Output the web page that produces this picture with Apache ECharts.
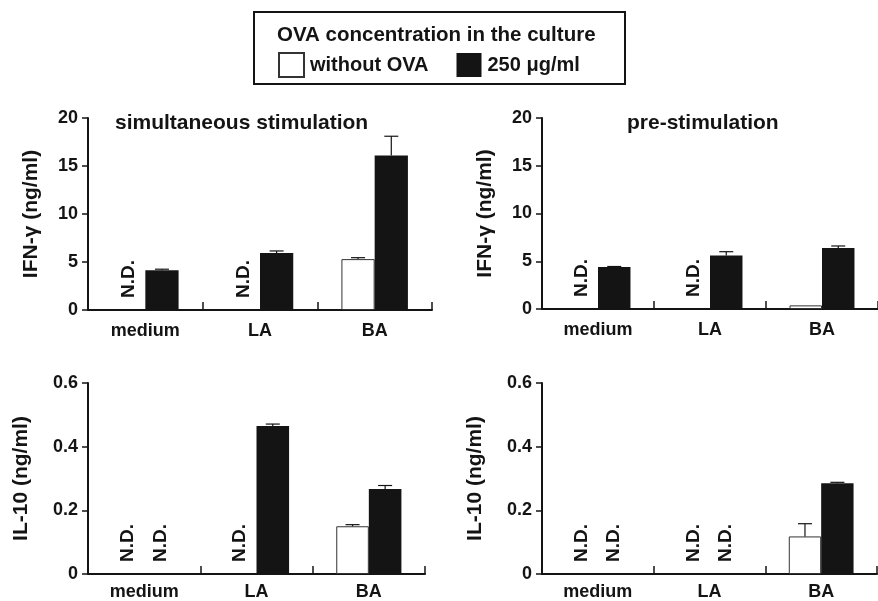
<!DOCTYPE html>
<html>
<head>
<meta charset="utf-8">
<script src="https://cdn.jsdelivr.net/npm/echarts@6/dist/echarts.min.js"></script>
<style>html,body{margin:0;padding:0;background:#fff;}#c{width:878px;height:601px;}</style>
</head>
<body>
<div id="c"></div>
<script>
const categories = ['medium', 'LA', 'BA'];
const seriesNames = ['without OVA', '250 \u03bcg/ml'];
const legendTitle = 'OVA concentration in the culture';
const panelTitles = ['simultaneous stimulation', 'pre-stimulation'];
const yNames = ['IFN-\u03b3 (ng/ml)', 'IL-10 (ng/ml)'];
const ifnTicks = [0, 5, 10, 15, 20];
const il10Ticks = [0, 0.2, 0.4, 0.6];

const ifnSimWithout = ['N.D.', 'N.D.', 5.3];
const ifnSimWithoutErr = [0, 0, 0.15];
const ifnSimWith = [4.15, 5.95, 16.1];
const ifnSimWithErr = [0.1, 0.2, 2.0];

const ifnPreWithout = ['N.D.', 'N.D.', 0.38];
const ifnPreWithoutErr = [0, 0, 0];
const ifnPreWith = [4.4, 5.6, 6.4];
const ifnPreWithErr = [0.05, 0.4, 0.2];

const il10SimWithout = ['N.D.', 'N.D.', 0.15];
const il10SimWithoutErr = [0, 0, 0.005];
const il10SimWith = ['N.D.', 0.465, 0.267];
const il10SimWithErr = [0, 0.006, 0.011];

const il10PreWithout = ['N.D.', 'N.D.', 0.118];
const il10PreWithoutErr = [0, 0, 0.04];
const il10PreWith = ['N.D.', 'N.D.', 0.285];
const il10PreWithErr = [0, 0, 0.003];

const FONT = '"Liberation Sans", Arial, Helvetica, sans-serif';
const INK = '#141414';
const GAP = 0.42;

const panels = [
  {grid: {left: 88, top: 118, width: 344, height: 192}, ticks: ifnTicks, name: yNames[0], nameGap: 46, labelMargin: 12,
   w: ifnSimWithout, we: ifnSimWithoutErr, b: ifnSimWith, be: ifnSimWithErr},
  {grid: {left: 542, top: 118, width: 345, height: 191}, ticks: ifnTicks, name: yNames[0], nameGap: 46, labelMargin: 12,
   w: ifnPreWithout, we: ifnPreWithoutErr, b: ifnPreWith, be: ifnPreWithErr},
  {grid: {left: 88, top: 383, width: 337, height: 192}, ticks: il10Ticks, name: yNames[1], nameGap: 56, labelMargin: 9,
   w: il10SimWithout, we: il10SimWithoutErr, b: il10SimWith, be: il10SimWithErr},
  {grid: {left: 542, top: 383, width: 335, height: 191}, ticks: il10Ticks, name: yNames[1], nameGap: 56, labelMargin: 9,
   w: il10PreWithout, we: il10PreWithoutErr, b: il10PreWith, be: il10PreWithErr}
];

const ndLabel = {
  show: true, formatter: 'N.D.', position: 'top', distance: 12, rotate: 90,
  align: 'left', verticalAlign: 'middle',
  fontFamily: FONT, fontWeight: 'bold', fontSize: 19, color: INK
};

function barData(arr) {
  return arr.map(v => v === 'N.D.'
    ? {value: 0, label: ndLabel, itemStyle: {color: 'rgba(0,0,0,0)', borderWidth: 0}}
    : v);
}
function errData(vals, errs) {
  const out = [];
  vals.forEach((v, i) => { if (v !== 'N.D.' && errs[i] > 0) out.push([i, v, errs[i]]); });
  return out;
}
function errRender(side) {
  return function (params, api) {
    const ci = api.value(0), v = api.value(1), e = api.value(2);
    const base = api.coord([ci, v]);
    const top = api.coord([ci, v + e]);
    const cw = api.size([1, 0])[0];
    const bw = cw * (1 - GAP) / 2;
    const x = base[0] + side * bw / 2;
    const cap = 7;
    const st = {stroke: INK, lineWidth: 1.2, fill: null};
    return {type: 'group', children: [
      {type: 'line', shape: {x1: x, y1: base[1], x2: x, y2: top[1]}, style: st},
      {type: 'line', shape: {x1: x - cap, y1: top[1], x2: x + cap, y2: top[1]}, style: st}
    ]};
  };
}

const grids = [], xAxes = [], yAxes = [], series = [];
panels.forEach((p, k) => {
  grids.push(Object.assign({containLabel: false}, p.grid));
  xAxes.push({
    type: 'category', gridIndex: k, data: categories, boundaryGap: true,
    axisLine: {show: true, lineStyle: {color: INK, width: 2}},
    axisTick: {show: true, inside: true, length: 8, alignWithLabel: false, lineStyle: {color: INK, width: 1.5}},
    axisLabel: {fontFamily: FONT, fontWeight: 'bold', fontSize: 18, color: INK, margin: p.labelMargin},
    splitLine: {show: false}
  });
  yAxes.push({
    type: 'value', gridIndex: k,
    min: p.ticks[0], max: p.ticks[p.ticks.length - 1], interval: p.ticks[1] - p.ticks[0],
    name: p.name, nameLocation: 'middle', nameGap: p.nameGap, nameRotate: 90,
    nameTextStyle: {fontFamily: FONT, fontWeight: 'bold', fontSize: 21, color: INK},
    axisLine: {show: true, lineStyle: {color: INK, width: 2}},
    axisTick: {show: true, inside: false, length: 6, lineStyle: {color: INK, width: 1.5}},
    axisLabel: {fontFamily: FONT, fontWeight: 'bold', fontSize: 18, color: INK, margin: 10,
      formatter: v => String(Math.round(v * 10) / 10)},
    splitLine: {show: false}
  });
  series.push({
    name: seriesNames[0], type: 'bar', xAxisIndex: k, yAxisIndex: k,
    barGap: '0%', barCategoryGap: (GAP * 100) + '%',
    itemStyle: {color: '#ffffff', borderColor: '#333333', borderWidth: 1},
    data: barData(p.w), z: 2
  });
  series.push({
    name: seriesNames[1], type: 'bar', xAxisIndex: k, yAxisIndex: k,
    barGap: '0%', barCategoryGap: (GAP * 100) + '%',
    itemStyle: {color: INK, borderColor: INK, borderWidth: 0},
    data: barData(p.b), z: 2
  });
  series.push({
    name: 'err-w-' + k, type: 'custom', xAxisIndex: k, yAxisIndex: k, z: 3,
    renderItem: errRender(-1), data: errData(p.w, p.we), encode: {x: 0, y: 1}
  });
  series.push({
    name: 'err-b-' + k, type: 'custom', xAxisIndex: k, yAxisIndex: k, z: 3,
    renderItem: errRender(1), data: errData(p.b, p.be), encode: {x: 0, y: 1}
  });
});

const chart = echarts.init(document.getElementById('c'), null, {renderer: 'canvas'});
chart.setOption({
  backgroundColor: '#ffffff',
  animation: false,
  grid: grids, xAxis: xAxes, yAxis: yAxes, series: series,
  legend: {
    data: seriesNames, left: 273, top: 47, orient: 'horizontal',
    icon: 'rect', itemWidth: 25, itemHeight: 24, itemGap: 28, selectedMode: false,
    textStyle: {fontFamily: FONT, fontWeight: 'bold', fontSize: 20, color: INK, padding: [0, 0, 0, 1]}
  },
  graphic: [
    {type: 'rect', shape: {x: 254, y: 12, width: 371, height: 72}, style: {fill: 'none', stroke: INK, lineWidth: 2}, z: 10},
    {type: 'text', x: 277, y: 35, style: {text: legendTitle, font: 'bold 20.5px ' + FONT, fill: INK, textVerticalAlign: 'middle'}, z: 10},
    {type: 'text', x: 115, y: 123, style: {text: panelTitles[0], font: 'bold 21px ' + FONT, fill: INK, textVerticalAlign: 'middle'}, z: 10},
    {type: 'text', x: 627, y: 123, style: {text: panelTitles[1], font: 'bold 21px ' + FONT, fill: INK, textVerticalAlign: 'middle'}, z: 10}
  ]
});
</script>
</body>
</html>
